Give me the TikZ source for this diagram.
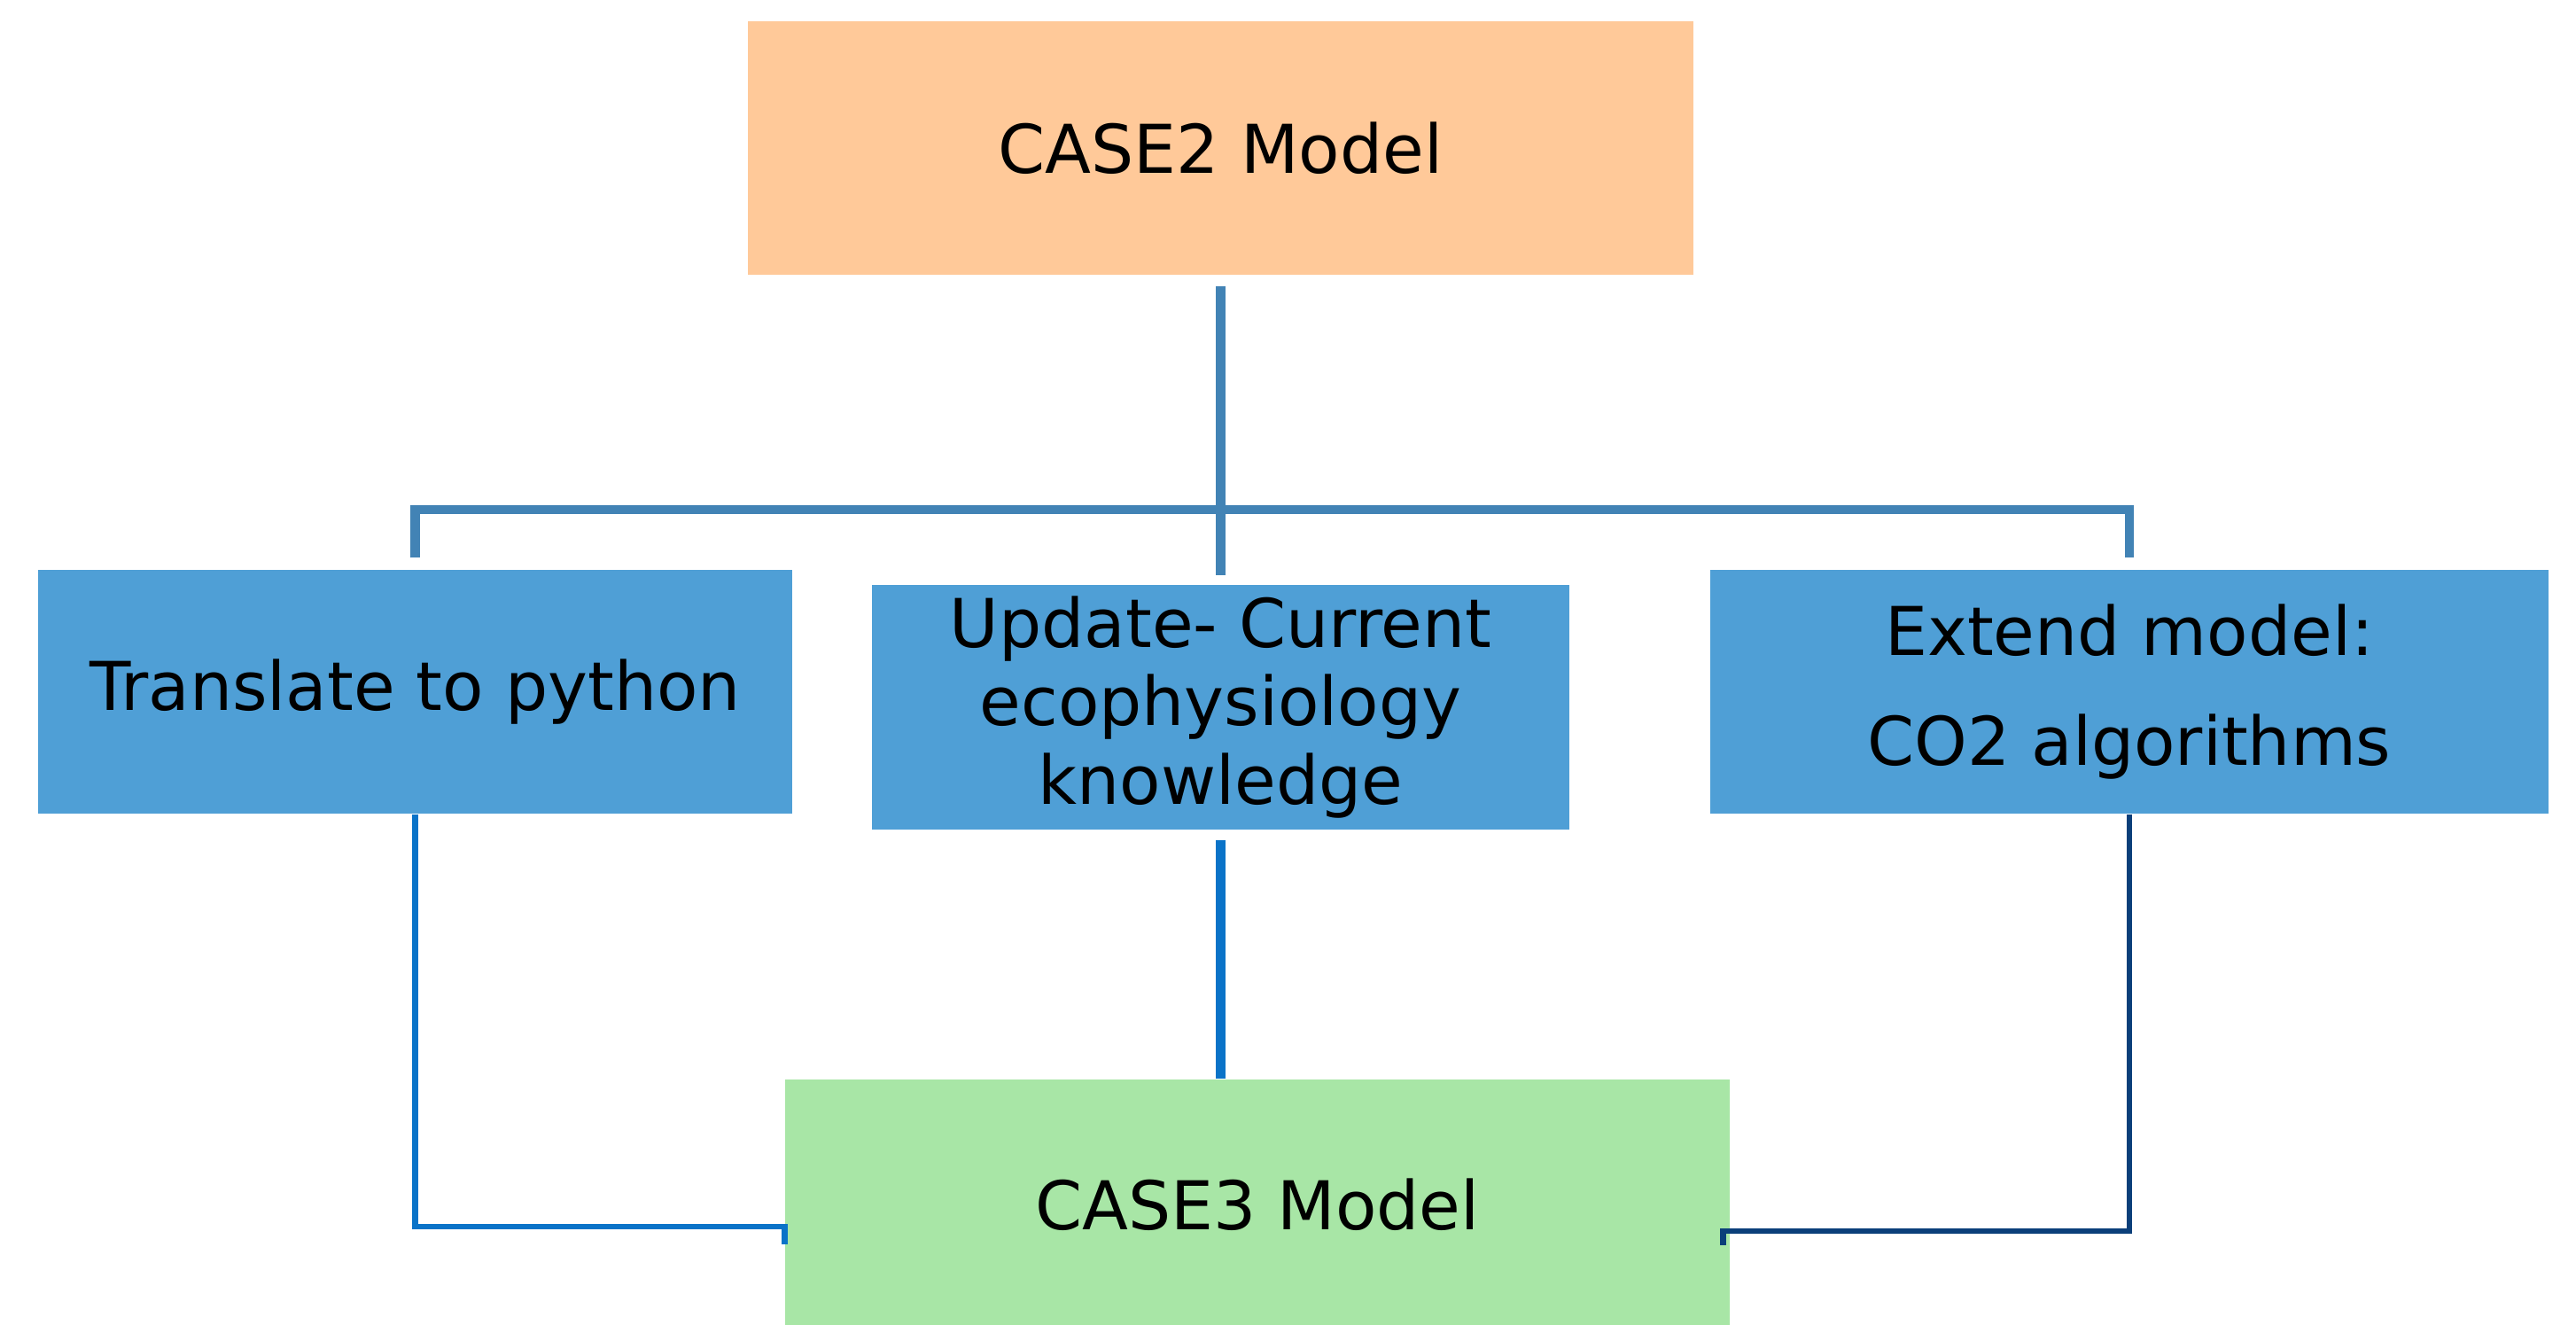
\documentclass[tikz,border=0pt]{standalone}
\usepackage{fontspec}
\setmainfont{DejaVu Sans}
\definecolor{caseorange}{HTML}{FFC999}
\definecolor{stepblue}{HTML}{4F9FD6}
\definecolor{casegreen}{HTML}{A8E6A6}
\definecolor{treeblue}{HTML}{4283B5}
\definecolor{linkblue}{HTML}{0A73C8}
\definecolor{linkdark}{HTML}{0B3F7A}
\tikzset{
  box/.style={rectangle,inner sep=0pt,align=center,
    font=\fontsize{21.6}{25.3}\selectfont},
  treeline/.style={draw=treeblue,line width=2.9pt},
}
\begin{document}
\begin{tikzpicture}
  \useasboundingbox (0,0) rectangle (29.07,14.94);
  \node[box,fill=caseorange,minimum width=10.67cm,minimum height=2.86cm]
    (case2) at (13.775,13.27) {CASE2 Model};
  \node[box,fill=stepblue,minimum width=8.51cm,minimum height=2.75cm]
    (trans) at (4.685,7.135) {Translate to python};
  \node[box,fill=stepblue,minimum width=7.87cm,minimum height=2.76cm]
    (update) at (13.775,6.96) {Update- Current\\ecophysiology\\knowledge};
  \node[box,fill=stepblue,minimum width=9.46cm,minimum height=2.75cm,
    font=\fontsize{21.6}{35.4}\selectfont]
    (extend) at (24.03,7.135) {Extend model:\\CO2 algorithms};
  \node[box,fill=casegreen,minimum width=10.66cm,minimum height=2.82cm]
    (case3) at (14.19,1.35) {CASE3 Model};
  \coordinate (bar) at (13.775,9.19);  % 横杠高度
  % 上面的树
  \draw[treeline] ([yshift=-1.2mm]case2.south) -- ([yshift=1mm]update.north);
  \draw[treeline] ([yshift=1.3mm]trans.north) |- (bar) -| ([yshift=1.3mm]extend.north);
  % 下面三条连线
  \draw[draw=linkblue,line width=3.2pt] ([yshift=-1.1mm]update.south) -- (update.south |- case3.north);
  \draw[draw=linkblue,line width=1.9pt] (trans.south) |- ([yshift=-2.5mm]case3.west) -- ++(0,-2mm);
  \draw[draw=linkdark,line width=1.9pt] (extend.south) |- ([xshift=-0.8mm,yshift=-3mm]case3.east) -- ++(0,-1.6mm);
\end{tikzpicture}
\end{document}
